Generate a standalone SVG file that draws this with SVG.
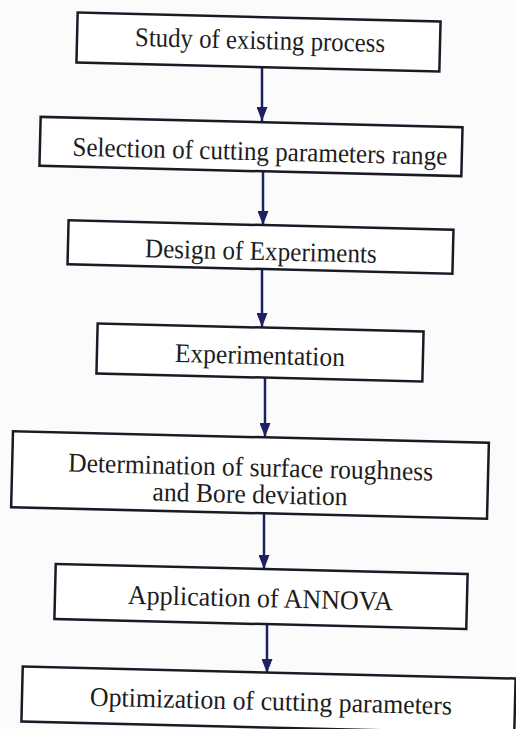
<svg xmlns="http://www.w3.org/2000/svg" width="516" height="729" viewBox="0 0 516 729">
<defs>
<marker id="ah" viewBox="0 0 10 10" refX="10" refY="5" markerWidth="14" markerHeight="11" orient="auto" markerUnits="userSpaceOnUse" preserveAspectRatio="none">
<path d="M0,0 L10,5 L0,10 z" fill="#1e2160"/>
</marker>
<style>
.box{fill:#fff;stroke:#1a1a26;stroke-width:2.5}
.lbl{font-family:"Liberation Serif","Times New Roman",serif;font-size:27px;fill:#1c1c20;text-anchor:middle}
.con{stroke:#1e2160;stroke-width:2.5;fill:none}
</style>
</defs>
<rect width="516" height="729" fill="#fbfbfb"/>
<g id="connectors">
<line class="con" x1="262" y1="67" x2="262" y2="121" marker-end="url(#ah)"/>
<line class="con" x1="263" y1="171" x2="263" y2="225" marker-end="url(#ah)"/>
<line class="con" x1="262" y1="269" x2="262" y2="327" marker-end="url(#ah)"/>
<line class="con" x1="265" y1="378" x2="265" y2="437" marker-end="url(#ah)"/>
<line class="con" x1="264" y1="514" x2="264" y2="569" marker-end="url(#ah)"/>
<line class="con" x1="267" y1="624" x2="267" y2="673" marker-end="url(#ah)"/>
</g>
<g id="n1" transform="rotate(1.4 258.5 42)">
<rect class="box" x="77" y="17" width="363" height="50"/>
<text class="lbl" x="260" y="49" textLength="250" lengthAdjust="spacingAndGlyphs">Study of existing process</text>
</g>
<g id="n2" transform="rotate(1.4 251 146.5)">
<rect class="box" x="40" y="122" width="422" height="49"/>
<text class="lbl" x="260" y="160" textLength="375" lengthAdjust="spacingAndGlyphs">Selection of cutting parameters range</text>
</g>
<g id="n3" transform="rotate(1.4 260.5 247)">
<rect class="box" x="68" y="225" width="385" height="44"/>
<text class="lbl" x="261" y="260" textLength="232" lengthAdjust="spacingAndGlyphs">Design of Experiments</text>
</g>
<g id="n4" transform="rotate(1.4 260 352.5)">
<rect class="box" x="97" y="327.5" width="326" height="50"/>
<text class="lbl" x="260" y="364" textLength="170" lengthAdjust="spacingAndGlyphs">Experimentation</text>
</g>
<g id="n5" transform="rotate(1.4 250 475)">
<rect class="box" x="12" y="437" width="476" height="76"/>
<text class="lbl" x="250.5" y="476" textLength="365" lengthAdjust="spacingAndGlyphs">Determination of surface roughness</text>
<text class="lbl" x="250.5" y="503" textLength="195" lengthAdjust="spacingAndGlyphs">and Bore deviation</text>
</g>
<g id="n6" transform="rotate(1.4 261 596.5)">
<rect class="box" x="55" y="569" width="412" height="55"/>
<text class="lbl" x="260.5" y="607" textLength="265" lengthAdjust="spacingAndGlyphs">Application of ANNOVA</text>
</g>
<g id="n7" transform="rotate(1.4 268 700)">
<rect class="box" x="22" y="672.5" width="493" height="55"/>
<text class="lbl" x="271" y="710" textLength="362" lengthAdjust="spacingAndGlyphs">Optimization of cutting parameters</text>
</g>
</svg>
